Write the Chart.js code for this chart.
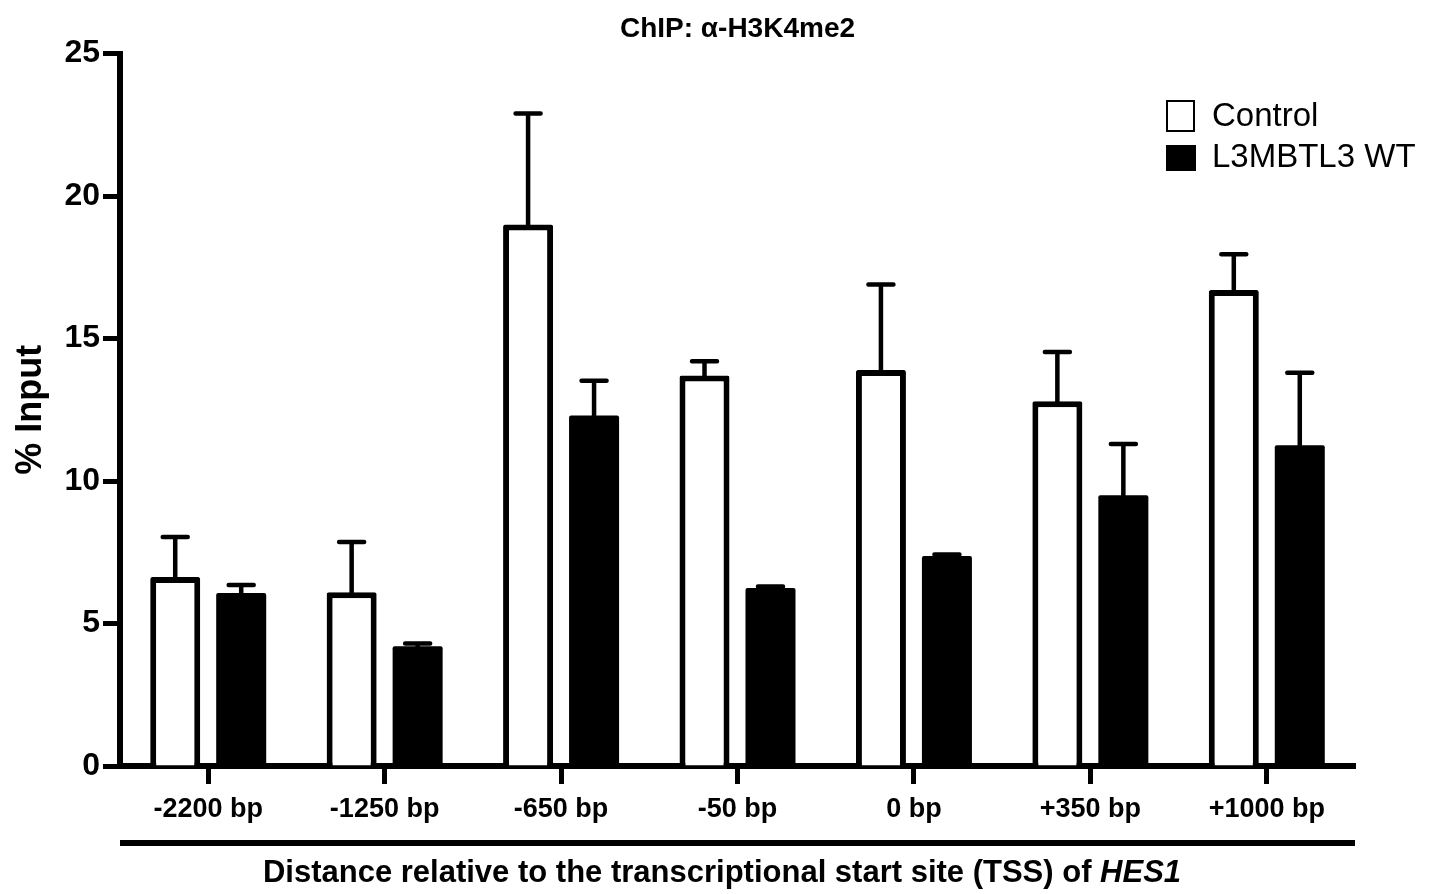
<!DOCTYPE html>
<html>
<head>
<meta charset="utf-8">
<title>ChIP: α-H3K4me2</title>
<script src="https://cdn.jsdelivr.net/npm/chart.js@4.4.1/dist/chart.umd.min.js"></script>
<style>
  html, body { margin: 0; padding: 0; background: #fff; }
  canvas { display: block; }
</style>
</head>
<body>
<canvas id="myChart" width="1439" height="894"></canvas>
<script>
const categories = ['-2200 bp', '-1250 bp', '-650 bp', '-50 bp', '0 bp', '+350 bp', '+1000 bp']
const controlMeans = [6.63, 6.1, 19.0, 13.7, 13.9, 12.8, 16.7]
const controlErr = [1.41, 1.76, 3.9, 0.5, 3.0, 1.73, 1.26]
const wtMeans = [6.07, 4.2, 12.3, 6.25, 7.37, 9.5, 11.26]
const wtErr = [0.28, 0.1, 1.22, 0.05, 0.05, 1.8, 2.54]
const seriesNames = ['Control', 'L3MBTL3 WT']
const yTicks = [0, 5, 10, 15, 20, 25]

const FONT = '"Liberation Sans", Arial, Helvetica, sans-serif'
const errors = [controlErr, wtErr]

// upward-only error bars with caps
const errorBars = {
    id: 'errorBars',
    afterDatasetsDraw(chart) {
        const ctx = chart.ctx
        const y = chart.scales.y
        ctx.save()
        ctx.strokeStyle = '#000'
        ctx.lineWidth = 4.5
        ctx.lineCap = 'round'
        chart.data.datasets.forEach((ds, i) => {
            const meta = chart.getDatasetMeta(i)
            meta.data.forEach((bar, j) => {
                const top = y.getPixelForValue(ds.data[j] + errors[i][j])
                ctx.beginPath()
                ctx.moveTo(bar.x, bar.y + 2)
                ctx.lineTo(bar.x, top)
                ctx.moveTo(bar.x - 12.5, top)
                ctx.lineTo(bar.x + 12.5, top)
                ctx.stroke()
            })
        })
        ctx.restore()
    }
}

// legend, x title and the line under the labels
const extras = {
    id: 'extras',
    afterDraw(chart) {
        const ctx = chart.ctx
        const area = chart.chartArea
        ctx.save()

        // legend
        ctx.textBaseline = 'middle'
        ctx.textAlign = 'left'
        ctx.font = '33px ' + FONT
        ctx.fillStyle = '#000'
        ctx.strokeStyle = '#000'
        ctx.lineWidth = 2
        ctx.strokeRect(1167, 101, 27, 30)
        ctx.fillText(seriesNames[0], 1212, 117)
        ctx.fillRect(1166, 145, 30, 26)
        ctx.fillText(seriesNames[1], 1212, 158)

        // thick line under the category labels
        ctx.lineWidth = 6
        ctx.beginPath()
        ctx.moveTo(area.left, 843)
        ctx.lineTo(area.right, 843)
        ctx.stroke()

        // x axis title, gene name in italics
        const part1 = 'Distance relative to the transcriptional start site (TSS) of '
        const part2 = 'HES1'
        const f1 = 'bold 31px ' + FONT
        const f2 = 'italic bold 31px ' + FONT
        ctx.font = f1
        const w1 = ctx.measureText(part1).width
        ctx.font = f2
        const w2 = ctx.measureText(part2).width
        let x = 722 - (w1 + w2) / 2
        ctx.font = f1
        ctx.fillText(part1, x, 873)
        ctx.font = f2
        ctx.fillText(part2, x + w1, 873)

        ctx.restore()
    }
}

let myChart = document.getElementById('myChart').getContext('2d')
const data = {
    labels: categories,
    datasets: [{
        label: seriesNames[0],
        data: controlMeans,
        backgroundColor: '#fff',
        borderColor: '#000',
        borderWidth: 6,
        borderSkipped: 'start',
        borderRadius: 2,
        categoryPercentage: 0.748,
        barPercentage: 0.758
    }, {
        label: seriesNames[1],
        data: wtMeans,
        backgroundColor: '#000',
        borderColor: '#000',
        borderWidth: 0,
        borderRadius: 2,
        categoryPercentage: 0.748,
        barPercentage: 0.758
    }]
}

let chipChart = new Chart(myChart, {
    type: 'bar',
    data: data,
    plugins: [errorBars, extras],
    options: {
        responsive: false,
        animation: false,
        devicePixelRatio: 1,
        layout: {
            padding: { left: 0, right: 84, top: 0, bottom: 0 }
        },
        plugins: {
            legend: { display: false },
            tooltip: { enabled: false },
            title: {
                display: true,
                fullSize: false,
                text: 'ChIP: α-H3K4me2',
                color: '#000',
                font: { family: FONT, size: 28, weight: 'bold' },
                padding: { top: 12, bottom: 8 }
            }
        },
        scales: {
            x: {
                offset: true,
                afterFit: (scale) => { scale.height = 128 },
                border: { display: true, color: '#000', width: 6 },
                grid: {
                    display: true,
                    offset: false,
                    drawOnChartArea: false,
                    drawTicks: true,
                    tickLength: 18,
                    tickWidth: 5,
                    tickColor: '#000'
                },
                ticks: {
                    color: '#000',
                    padding: 9,
                    maxRotation: 0,
                    font: { family: FONT, size: 27, weight: 'bold' }
                }
            },
            y: {
                min: 0,
                max: 25,
                afterFit: (scale) => { scale.width = 120 },
                afterBuildTicks: (scale) => { scale.ticks = yTicks.map(v => ({ value: v })) },
                border: { display: true, color: '#000', width: 6 },
                grid: {
                    display: true,
                    drawOnChartArea: false,
                    drawTicks: true,
                    tickLength: 17,
                    tickWidth: 5,
                    tickColor: '#000'
                },
                ticks: {
                    color: '#000',
                    padding: 3,
                    font: { family: FONT, size: 32, weight: 'bold' }
                },
                title: {
                    display: true,
                    text: '% Input',
                    color: '#000',
                    padding: { top: 9, bottom: 0 },
                    font: { family: FONT, size: 36, weight: 'bold' }
                }
            }
        }
    }
})
</script>
</body>
</html>
